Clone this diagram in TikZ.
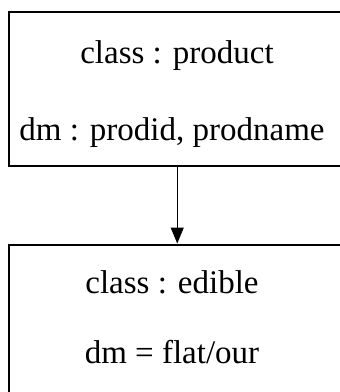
\documentclass[tikz,border=0pt]{standalone}
\usepackage{fontspec}
\setmainfont{Liberation Serif}
\usetikzlibrary{arrows.meta}
\tikzstyle{classbox} = [draw, line width=2pt, rectangle, minimum width=337.5pt, inner sep=0pt]
\tikzstyle{entry}    = [anchor=base, inner sep=0pt, font=\fontsize{33}{40}\selectfont]
\tikzstyle{arrow}    = [line width=1.2pt, -{Triangle[width=13pt,length=16pt]}]

\begin{document}
\begin{tikzpicture}[x=1pt,y=-1pt]
  \useasboundingbox (0,0) rectangle (340,392);
  \clip (0,0) rectangle (340,392);

  %the two class boxes, cut off at the right
  \node[classbox, minimum height=154pt] (product) at (177.25,88.5) {};
  \node[classbox, minimum height=160pt] (edible) at (177.25,324.5) {};

  %what is written in them
  \node[entry] (productcls) at (177,63) {class : product};
  \node[entry] (productdm) at (172,140) {dm : prodid, prodname};
  \node[entry] (ediblecls) at (172,293) {class : edible};
  \node[entry] (edibledm) at (172,363) {dm = flat/our};

  \draw[arrow] (product) -- (edible);
\end{tikzpicture}
\end{document}
